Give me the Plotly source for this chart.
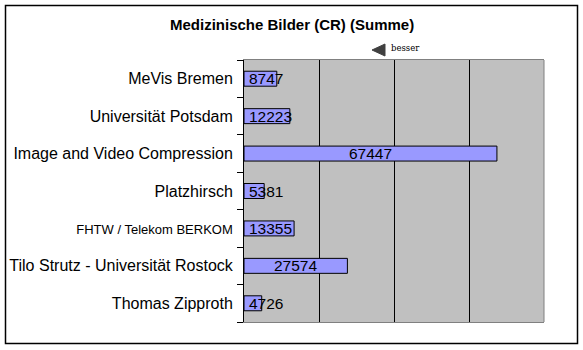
import plotly.graph_objects as go

categories = ["MeVis Bremen", "Universität Potsdam", "Image and Video Compression",
              "Platzhirsch", "FHTW / Telekom BERKOM",
              "Tilo Strutz - Universität Rostock", "Thomas Zipproth"]
values = [8747, 12223, 67447, 5381, 13355, 27574, 4726]
x_ticks = [20000, 40000, 60000]
title_text = "Medizinische Bilder (CR) (Summe)"
note_text = "besser"

# ---- layout constants (pixels) ----
W, H = 583, 350
L, R, T, B = 244, 39, 60, 28
PW, PH = W - L - R, H - T - B
XMAX = 80000
scale = PW / XMAX

def px_x(p):
    return (p - L) / PW

def px_y(p):
    return (H - B - p) / PH

label_sizes = {"FHTW / Telekom BERKOM": 13}
ticktext = [f'<span style="font-size:{label_sizes[c]}px">{c}</span>' if c in label_sizes else c
            for c in categories]

fig = go.Figure()
fig.add_trace(go.Bar(
    y=categories, x=values, orientation="h", width=0.4,
    marker=dict(color="#9999FF", line=dict(color="black", width=1)),
    hoverinfo="skip",
))

# value labels: centred in bar unless they would overflow on the left
value_annotations = []
for c, v in zip(categories, values):
    half_text = len(str(v)) * 8.8 / 2
    if v * scale / 2 - half_text < 7:
        value_annotations.append(dict(x=0, y=c, xref="x", yref="y", text=str(v),
                                      xanchor="left", xshift=4, showarrow=False))
    else:
        value_annotations.append(dict(x=v / 2, y=c, xref="x", yref="y", text=str(v),
                                      xanchor="center", showarrow=False))
for a in value_annotations:
    a.update(yanchor="middle", borderpad=0,
             font=dict(family="Liberation Sans, Arial", size=15.5, color="black"))

fig.update_layout(
    width=W, height=H, margin=dict(l=L, r=R, t=T, b=B, autoexpand=False),
    paper_bgcolor="white", plot_bgcolor="#C0C0C0",
    showlegend=False, bargap=0.6,
    font=dict(family="Liberation Sans, Arial", color="black"),
    xaxis=dict(range=[0, XMAX], tickvals=x_ticks, showticklabels=False, automargin=False,
               showgrid=True, gridcolor="black", gridwidth=1, zeroline=False,
               showline=True, linecolor="#808080", linewidth=1, mirror=True, ticks=""),
    yaxis=dict(type="category", categoryorder="array", categoryarray=categories,
               tickvals=categories, ticktext=ticktext, automargin=False,
               autorange="reversed", showgrid=False, zeroline=False,
               showline=True, linecolor="black", linewidth=1,
               ticks="outside", ticklen=6, tickcolor="black", tickson="boundaries",
               ticklabelstandoff=7,
               tickfont=dict(family="Liberation Sans, Arial", size=16, color="black")),
    shapes=[
        # right border of plot area
        dict(type="line", xref="paper", yref="paper", x0=1, x1=1, y0=0, y1=1,
             line=dict(color="#808080", width=1)),
        # outer chart border
        dict(type="rect", xref="paper", yref="paper",
             x0=px_x(5.5), x1=px_x(577.5), y0=px_y(343.5), y1=px_y(5.5),
             line=dict(color="black", width=1.5)),
        # triangle for "besser"
        dict(type="path", xref="paper", yref="paper",
             path=f"M {px_x(372)},{px_y(50)} L {px_x(385)},{px_y(44)} L {px_x(385)},{px_y(56)} Z",
             fillcolor="#404040", line=dict(color="#404040", width=1)),
    ],
    annotations=[
        dict(text=f"<b>{title_text}</b>", xref="paper", yref="paper",
             x=px_x(292), y=px_y(25), xanchor="center", yanchor="middle", showarrow=False,
             font=dict(family="Liberation Sans, Arial", size=15, color="black")),
        dict(text=note_text, xref="paper", yref="paper",
             x=px_x(389), y=px_y(47.5), xanchor="left", yanchor="middle", showarrow=False,
             font=dict(family="DejaVu Serif, serif", size=8.5, color="black")),
    ] + value_annotations,
)

fig.write_html("out.html")
